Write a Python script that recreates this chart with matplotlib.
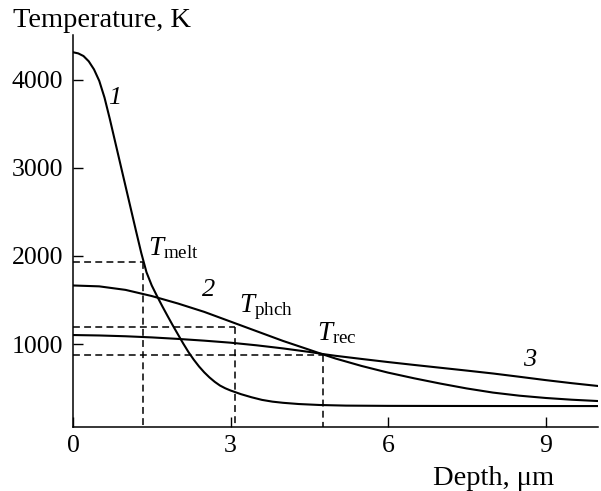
import matplotlib
matplotlib.use("Agg")
import matplotlib.pyplot as plt

# curve 1
depth_1 = [0, 0.1, 0.2, 0.3, 0.4, 0.5, 0.6, 0.7, 0.8, 0.9, 1.0, 1.1, 1.2, 1.3, 1.4,
           1.5, 1.6, 1.7, 1.8, 1.9, 2.0, 2.1, 2.2, 2.3, 2.4, 2.5, 2.6, 2.7, 2.8, 2.9,
           3.0, 3.2, 3.4, 3.6, 3.8, 4.0, 4.3, 4.7, 5.2, 6.0, 7.0, 8.5, 10.0]
temp_1 = [4315, 4302, 4272, 4212, 4120, 3990, 3800, 3560, 3305, 3050, 2795, 2540, 2285,
          2035, 1815, 1665, 1545, 1430, 1320, 1212, 1108, 1005, 908, 822, 745, 678, 620,
          570, 528, 497, 472, 430, 395, 365, 345, 332, 318, 307, 300, 297, 296, 295, 295]

# curve 2
depth_2 = [0, 0.5, 1.0, 1.5, 2.0, 2.5, 3.0, 3.5, 4.0, 4.5, 4.77, 5.0, 5.5, 6.0, 6.5,
           7.0, 7.5, 8.0, 8.5, 9.0, 9.5, 10.0]
temp_2 = [1665, 1655, 1615, 1545, 1460, 1365, 1255, 1145, 1035, 935, 880, 835, 750,
          675, 610, 550, 495, 448, 413, 387, 367, 352]

# curve 3
depth_3 = [0, 0.5, 1.0, 1.5, 2.0, 2.5, 3.0, 3.5, 4.0, 4.5, 4.77, 5.0, 5.5, 6.0, 6.5,
           7.0, 7.5, 8.0, 8.5, 9.0, 9.5, 10.0]
temp_3 = [1102, 1097, 1088, 1075, 1058, 1038, 1015, 985, 950, 910, 885, 866, 830,
          795, 762, 730, 698, 665, 628, 590, 555, 523]

# characteristic temperatures (dashed markers)
mark_names = [r"$T_{\rm melt}$", r"$T_{\rm phch}$", r"$T_{\rm rec}$"]
mark_depth = [1.34, 3.09, 4.77]
mark_temp = [1930, 1197, 875]

x_ticks = [0, 3, 6, 9]
y_ticks = [1000, 2000, 3000, 4000]

plt.rcParams["font.family"] = ["Liberation Serif", "DejaVu Serif"]
plt.rcParams["mathtext.fontset"] = "custom"
plt.rcParams["mathtext.rm"] = "Liberation Serif"
plt.rcParams["mathtext.it"] = "Liberation Serif:italic"
plt.rcParams["font.size"] = 18.5

fig = plt.figure(figsize=(6.01, 4.91), dpi=100)
ax = fig.add_axes([73 / 601, 1 - 427 / 491, 525 / 601, 392 / 491])

for x, y in [(depth_1, temp_1), (depth_2, temp_2), (depth_3, temp_3)]:
    ax.plot(x, y, color="black", lw=1.5, solid_joinstyle="round")

y_bottom = 57
for xm, tm in zip(mark_depth, mark_temp):
    ax.plot([0, xm], [tm, tm], color="black", lw=1.1, dashes=(4.5, 2.8))
    ax.plot([xm, xm], [tm, y_bottom], color="black", lw=1.1, dashes=(4.5, 2.8))

# curve numbers
ax.text(0.80, 3790, "1", style="italic", ha="center", va="center", fontsize=19)
ax.text(2.58, 1614, "2", style="italic", ha="center", va="center", fontsize=19)
ax.text(8.69, 818, "3", style="italic", ha="center", va="center", fontsize=19)

# labels of the marks
label_pos = [(1.42, 2011), (3.17, 1367), (4.64, 1050)]
for name, (lx, ly) in zip(mark_names, label_pos):
    ax.text(lx, ly, name, ha="left", va="baseline", fontsize=19.5)

ax.set_xlim(0, 10.0)
ax.set_ylim(y_bottom, 4511)
ax.set_xticks(x_ticks)
ax.set_yticks(y_ticks)
ax.tick_params(direction="in", length=7.5, width=1.0, pad=7, labelsize=18.5)
ax.tick_params(axis="x", pad=6)
for side in ["top", "right"]:
    ax.spines[side].set_visible(False)
for side in ["left", "bottom"]:
    ax.spines[side].set_linewidth(1.1)

fig.text(13 / 601, 1 - 27 / 491, "Temperature, K", ha="left", va="baseline", fontsize=20.5)
fig.text(433 / 601, 1 - 485 / 491, "Depth, \u03bcm", ha="left", va="baseline", fontsize=20.5)

fig.savefig("out.png", dpi=100)
